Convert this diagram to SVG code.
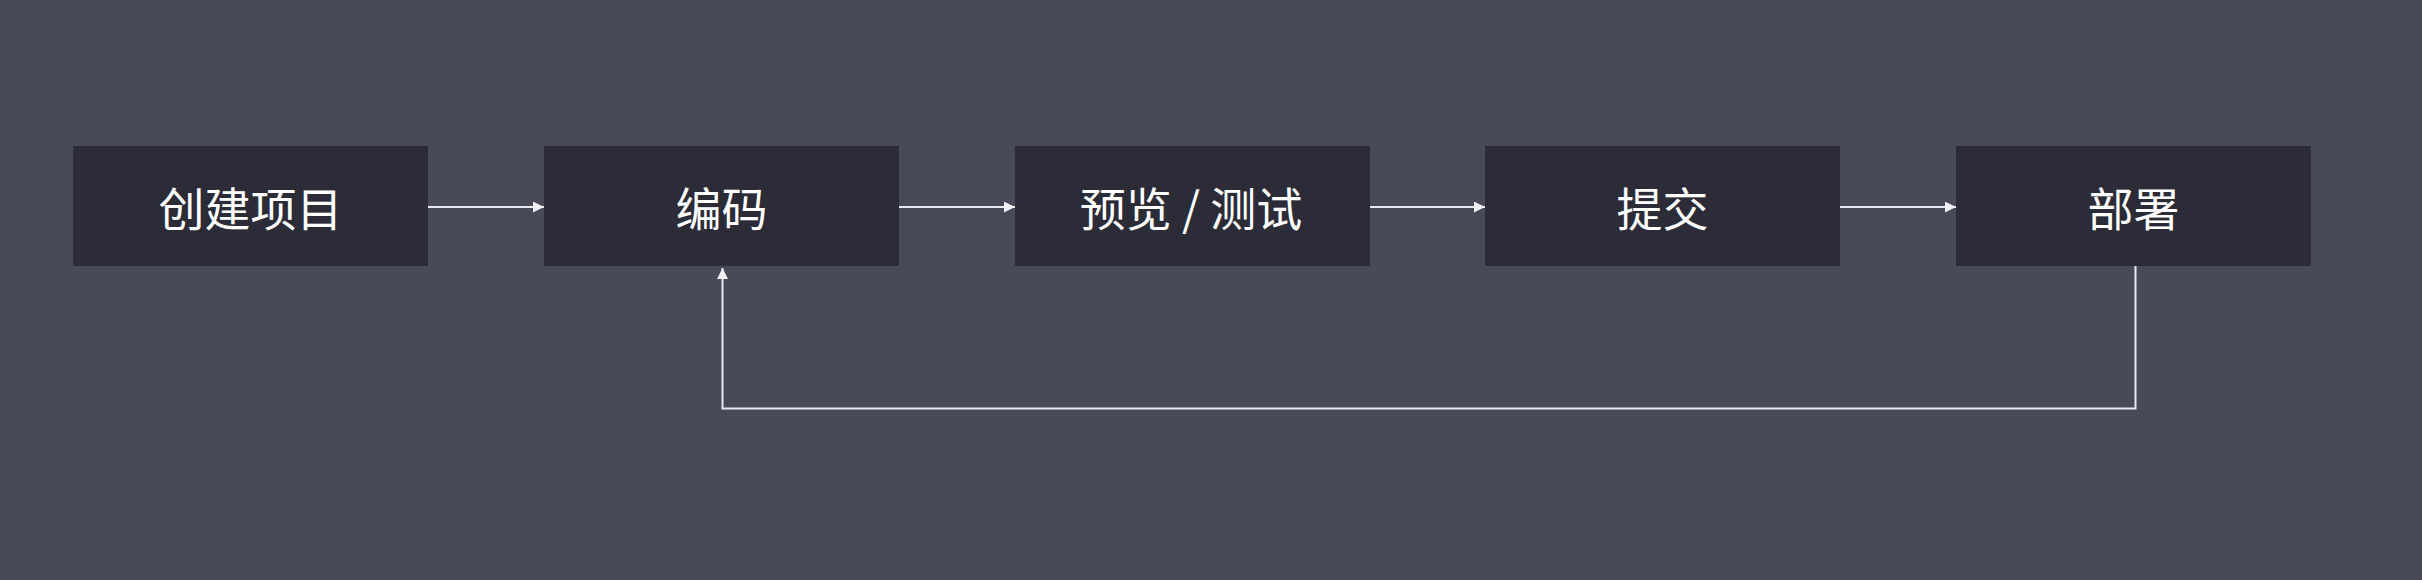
<svg xmlns="http://www.w3.org/2000/svg" width="2422" height="580" viewBox="0 0 2422 580">
<style>
.box{fill:#2b2c37}
.lbl{font-family:"Noto Sans CJK SC","Noto Sans",sans-serif;font-size:46px;font-weight:400;fill:#ffffff;text-anchor:middle;dominant-baseline:central}
.edge{fill:none;stroke:#e8e8ee;stroke-width:2}
</style>
<defs>
<marker id="arr" viewBox="0 0 10 10" refX="10" refY="5" markerWidth="11" markerHeight="11" markerUnits="userSpaceOnUse" orient="auto">
<path d="M0,0 L10,5 L0,10 z" fill="#f0f0f4"/>
</marker>
</defs>
<rect width="2422" height="580" fill="#494a57"/>
<g id="n1"><rect class="box" x="73" y="146" width="355" height="120"/><text class="lbl" x="250.5" y="206">创建项目</text></g>
<g id="n2"><rect class="box" x="544" y="146" width="355" height="120"/><text class="lbl" x="721.5" y="206">编码</text></g>
<g id="n3"><rect class="box" x="1015" y="146" width="355" height="120"/><text class="lbl" x="1191" y="206">预览 / 测试</text></g>
<g id="n4"><rect class="box" x="1485" y="146" width="355" height="120"/><text class="lbl" x="1662.5" y="206">提交</text></g>
<g id="n5"><rect class="box" x="1956" y="146" width="355" height="120"/><text class="lbl" x="2133.5" y="206">部署</text></g>
<g id="edges">
<path class="edge" d="M428,207 H544" marker-end="url(#arr)"/>
<path class="edge" d="M899,207 H1015" marker-end="url(#arr)"/>
<path class="edge" d="M1370,207 H1485" marker-end="url(#arr)"/>
<path class="edge" d="M1840,207 H1956" marker-end="url(#arr)"/>
<path class="edge" d="M2135.5,266 V408.5 H722.5 V268" marker-end="url(#arr)"/>
</g>
</svg>
